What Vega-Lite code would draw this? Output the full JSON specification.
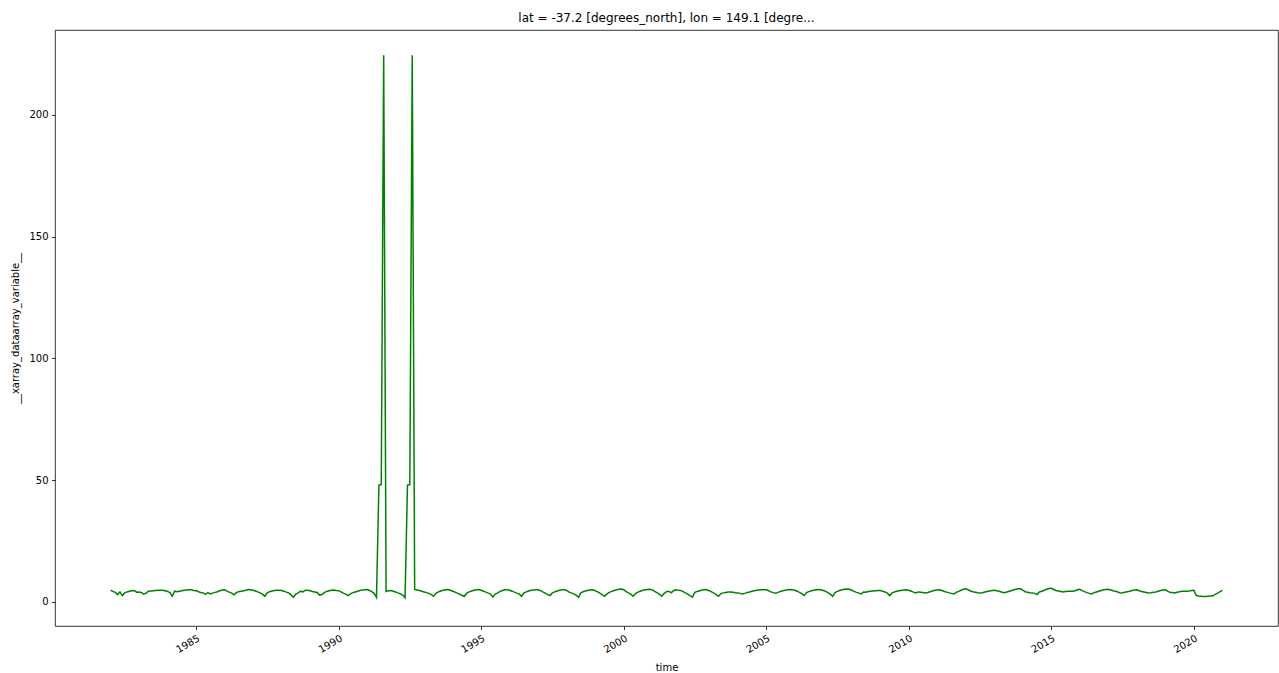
{
  "$schema": "https://vega.github.io/schema/vega-lite/v6.json",
  "width": 1223,
  "height": 596,
  "autosize": {"type": "none"},
  "padding": {"left": 55, "top": 30, "right": 1, "bottom": 47},
  "background": "white",
  "title": {"text": "lat = -37.2 [degrees_north], lon = 149.1 [degre...", "font": "DejaVu Sans", "fontSize": 12, "fontWeight": "normal", "color": "black", "anchor": "middle", "offset": 5},
  "data": {"values": [
    {"t":"1982-01-01","v":4.8},{"t":"1982-02-01","v":4.3},{"t":"1982-03-01","v":3.9},{"t":"1982-04-01","v":3.0},{"t":"1982-05-01","v":4.1},{"t":"1982-06-01","v":2.6},{"t":"1982-07-01","v":3.7},{"t":"1982-08-01","v":4.1},{"t":"1982-09-01","v":4.4},{"t":"1982-10-01","v":4.6},{"t":"1982-11-01","v":4.7},{"t":"1982-12-01","v":4.0},
    {"t":"1983-01-01","v":4.1},{"t":"1983-02-01","v":3.8},{"t":"1983-03-01","v":3.2},{"t":"1983-04-01","v":3.6},{"t":"1983-05-01","v":4.4},{"t":"1983-06-01","v":4.5},{"t":"1983-07-01","v":4.6},{"t":"1983-08-01","v":4.7},{"t":"1983-09-01","v":4.8},{"t":"1983-10-01","v":4.8},{"t":"1983-11-01","v":4.8},{"t":"1983-12-01","v":4.6},
    {"t":"1984-01-01","v":4.3},{"t":"1984-02-01","v":3.8},{"t":"1984-03-01","v":2.3},{"t":"1984-04-01","v":4.4},{"t":"1984-05-01","v":4.2},{"t":"1984-06-01","v":4.4},{"t":"1984-07-01","v":4.6},{"t":"1984-08-01","v":4.8},{"t":"1984-09-01","v":4.9},{"t":"1984-10-01","v":5.0},{"t":"1984-11-01","v":5.0},{"t":"1984-12-01","v":4.7},
    {"t":"1985-01-01","v":4.6},{"t":"1985-02-01","v":4.2},{"t":"1985-03-01","v":3.9},{"t":"1985-04-01","v":3.7},{"t":"1985-05-01","v":3.1},{"t":"1985-06-01","v":3.8},{"t":"1985-07-01","v":3.3},{"t":"1985-08-01","v":3.6},{"t":"1985-09-01","v":3.9},{"t":"1985-10-01","v":4.2},{"t":"1985-11-01","v":4.6},{"t":"1985-12-01","v":4.9},
    {"t":"1986-01-01","v":5.0},{"t":"1986-02-01","v":4.4},{"t":"1986-03-01","v":4.0},{"t":"1986-04-01","v":3.6},{"t":"1986-05-01","v":2.9},{"t":"1986-06-01","v":3.8},{"t":"1986-07-01","v":4.2},{"t":"1986-08-01","v":4.4},{"t":"1986-09-01","v":4.6},{"t":"1986-10-01","v":4.8},{"t":"1986-11-01","v":5.1},{"t":"1986-12-01","v":5.0},
    {"t":"1987-01-01","v":4.8},{"t":"1987-02-01","v":4.5},{"t":"1987-03-01","v":4.1},{"t":"1987-04-01","v":3.7},{"t":"1987-05-01","v":3.2},{"t":"1987-06-01","v":2.3},{"t":"1987-07-01","v":3.7},{"t":"1987-08-01","v":4.2},{"t":"1987-09-01","v":4.5},{"t":"1987-10-01","v":4.7},{"t":"1987-11-01","v":4.8},{"t":"1987-12-01","v":4.8},
    {"t":"1988-01-01","v":4.7},{"t":"1988-02-01","v":4.4},{"t":"1988-03-01","v":4.0},{"t":"1988-04-01","v":3.7},{"t":"1988-05-01","v":2.9},{"t":"1988-06-01","v":1.9},{"t":"1988-07-01","v":3.2},{"t":"1988-08-01","v":3.7},{"t":"1988-09-01","v":4.4},{"t":"1988-10-01","v":4.1},{"t":"1988-11-01","v":4.8},{"t":"1988-12-01","v":4.8},
    {"t":"1989-01-01","v":4.6},{"t":"1989-02-01","v":4.3},{"t":"1989-03-01","v":4.1},{"t":"1989-04-01","v":3.9},{"t":"1989-05-01","v":2.8},{"t":"1989-06-01","v":3.0},{"t":"1989-07-01","v":3.8},{"t":"1989-08-01","v":4.3},{"t":"1989-09-01","v":4.6},{"t":"1989-10-01","v":4.8},{"t":"1989-11-01","v":4.9},{"t":"1989-12-01","v":4.7},
    {"t":"1990-01-01","v":4.6},{"t":"1990-02-01","v":4.1},{"t":"1990-03-01","v":3.6},{"t":"1990-04-01","v":3.2},{"t":"1990-05-01","v":2.6},{"t":"1990-06-01","v":3.3},{"t":"1990-07-01","v":3.8},{"t":"1990-08-01","v":4.1},{"t":"1990-09-01","v":4.4},{"t":"1990-10-01","v":4.7},{"t":"1990-11-01","v":4.9},{"t":"1990-12-01","v":5.0},
    {"t":"1991-01-01","v":5.1},{"t":"1991-02-01","v":4.7},{"t":"1991-03-01","v":4.2},{"t":"1991-04-01","v":3.5},{"t":"1991-05-01","v":1.8},{"t":"1991-06-01","v":48.0},{"t":"1991-07-01","v":48.2},{"t":"1991-08-01","v":224.5},{"t":"1991-09-01","v":4.3},{"t":"1991-10-01","v":4.6},{"t":"1991-11-01","v":4.7},{"t":"1991-12-01","v":4.4},
    {"t":"1992-01-01","v":4.1},{"t":"1992-02-01","v":3.7},{"t":"1992-03-01","v":3.3},{"t":"1992-04-01","v":2.8},{"t":"1992-05-01","v":1.7},{"t":"1992-06-01","v":48.0},{"t":"1992-07-01","v":48.2},{"t":"1992-08-01","v":224.5},{"t":"1992-09-01","v":5.1},{"t":"1992-10-01","v":4.9},{"t":"1992-11-01","v":4.7},{"t":"1992-12-01","v":4.4},
    {"t":"1993-01-01","v":4.1},{"t":"1993-02-01","v":3.8},{"t":"1993-03-01","v":3.5},{"t":"1993-04-01","v":3.1},{"t":"1993-05-01","v":2.3},{"t":"1993-06-01","v":3.5},{"t":"1993-07-01","v":4.1},{"t":"1993-08-01","v":4.5},{"t":"1993-09-01","v":4.8},{"t":"1993-10-01","v":5.0},{"t":"1993-11-01","v":5.1},{"t":"1993-12-01","v":4.8},
    {"t":"1994-01-01","v":4.4},{"t":"1994-02-01","v":4.0},{"t":"1994-03-01","v":3.6},{"t":"1994-04-01","v":3.2},{"t":"1994-05-01","v":2.6},{"t":"1994-06-01","v":2.3},{"t":"1994-07-01","v":3.6},{"t":"1994-08-01","v":4.1},{"t":"1994-09-01","v":4.5},{"t":"1994-10-01","v":4.8},{"t":"1994-11-01","v":5.0},{"t":"1994-12-01","v":5.1},
    {"t":"1995-01-01","v":4.8},{"t":"1995-02-01","v":4.4},{"t":"1995-03-01","v":4.0},{"t":"1995-04-01","v":3.6},{"t":"1995-05-01","v":3.2},{"t":"1995-06-01","v":2.0},{"t":"1995-07-01","v":3.2},{"t":"1995-08-01","v":3.7},{"t":"1995-09-01","v":4.3},{"t":"1995-10-01","v":4.7},{"t":"1995-11-01","v":5.0},{"t":"1995-12-01","v":5.0},
    {"t":"1996-01-01","v":4.8},{"t":"1996-02-01","v":4.4},{"t":"1996-03-01","v":4.0},{"t":"1996-04-01","v":3.6},{"t":"1996-05-01","v":3.3},{"t":"1996-06-01","v":2.3},{"t":"1996-07-01","v":3.6},{"t":"1996-08-01","v":4.1},{"t":"1996-09-01","v":4.5},{"t":"1996-10-01","v":4.8},{"t":"1996-11-01","v":4.9},{"t":"1996-12-01","v":5.0},
    {"t":"1997-01-01","v":5.0},{"t":"1997-02-01","v":4.6},{"t":"1997-03-01","v":4.1},{"t":"1997-04-01","v":3.6},{"t":"1997-05-01","v":3.0},{"t":"1997-06-01","v":2.6},{"t":"1997-07-01","v":3.7},{"t":"1997-08-01","v":4.1},{"t":"1997-09-01","v":4.5},{"t":"1997-10-01","v":4.8},{"t":"1997-11-01","v":5.0},{"t":"1997-12-01","v":5.0},
    {"t":"1998-01-01","v":4.7},{"t":"1998-02-01","v":4.0},{"t":"1998-03-01","v":3.7},{"t":"1998-04-01","v":3.3},{"t":"1998-05-01","v":2.8},{"t":"1998-06-01","v":1.9},{"t":"1998-07-01","v":3.7},{"t":"1998-08-01","v":4.2},{"t":"1998-09-01","v":4.5},{"t":"1998-10-01","v":4.8},{"t":"1998-11-01","v":4.9},{"t":"1998-12-01","v":5.0},
    {"t":"1999-01-01","v":4.6},{"t":"1999-02-01","v":4.1},{"t":"1999-03-01","v":3.6},{"t":"1999-04-01","v":3.0},{"t":"1999-05-01","v":2.3},{"t":"1999-06-01","v":3.3},{"t":"1999-07-01","v":3.9},{"t":"1999-08-01","v":4.3},{"t":"1999-09-01","v":4.7},{"t":"1999-10-01","v":5.0},{"t":"1999-11-01","v":5.2},{"t":"1999-12-01","v":5.3},
    {"t":"2000-01-01","v":5.0},{"t":"2000-02-01","v":4.2},{"t":"2000-03-01","v":3.7},{"t":"2000-04-01","v":3.2},{"t":"2000-05-01","v":2.3},{"t":"2000-06-01","v":3.4},{"t":"2000-07-01","v":4.0},{"t":"2000-08-01","v":4.4},{"t":"2000-09-01","v":4.8},{"t":"2000-10-01","v":5.0},{"t":"2000-11-01","v":5.1},{"t":"2000-12-01","v":5.2},
    {"t":"2001-01-01","v":4.9},{"t":"2001-02-01","v":4.3},{"t":"2001-03-01","v":3.8},{"t":"2001-04-01","v":3.2},{"t":"2001-05-01","v":2.3},{"t":"2001-06-01","v":3.4},{"t":"2001-07-01","v":4.2},{"t":"2001-08-01","v":4.4},{"t":"2001-09-01","v":3.7},{"t":"2001-10-01","v":4.6},{"t":"2001-11-01","v":5.0},{"t":"2001-12-01","v":4.8},
    {"t":"2002-01-01","v":4.7},{"t":"2002-02-01","v":4.2},{"t":"2002-03-01","v":3.7},{"t":"2002-04-01","v":3.2},{"t":"2002-05-01","v":2.5},{"t":"2002-06-01","v":2.0},{"t":"2002-07-01","v":3.9},{"t":"2002-08-01","v":4.3},{"t":"2002-09-01","v":4.6},{"t":"2002-10-01","v":4.9},{"t":"2002-11-01","v":5.1},{"t":"2002-12-01","v":5.0},
    {"t":"2003-01-01","v":4.6},{"t":"2003-02-01","v":4.1},{"t":"2003-03-01","v":3.6},{"t":"2003-04-01","v":3.0},{"t":"2003-05-01","v":2.3},{"t":"2003-06-01","v":3.4},{"t":"2003-07-01","v":3.7},{"t":"2003-08-01","v":3.9},{"t":"2003-09-01","v":4.1},{"t":"2003-10-01","v":4.1},{"t":"2003-11-01","v":4.0},{"t":"2003-12-01","v":3.8},
    {"t":"2004-01-01","v":3.7},{"t":"2004-02-01","v":3.5},{"t":"2004-03-01","v":3.3},{"t":"2004-04-01","v":3.5},{"t":"2004-05-01","v":3.9},{"t":"2004-06-01","v":4.1},{"t":"2004-07-01","v":4.4},{"t":"2004-08-01","v":4.6},{"t":"2004-09-01","v":4.8},{"t":"2004-10-01","v":4.9},{"t":"2004-11-01","v":5.0},{"t":"2004-12-01","v":5.0},
    {"t":"2005-01-01","v":5.0},{"t":"2005-02-01","v":4.6},{"t":"2005-03-01","v":4.1},{"t":"2005-04-01","v":3.8},{"t":"2005-05-01","v":3.6},{"t":"2005-06-01","v":3.9},{"t":"2005-07-01","v":4.3},{"t":"2005-08-01","v":4.6},{"t":"2005-09-01","v":4.8},{"t":"2005-10-01","v":5.0},{"t":"2005-11-01","v":5.1},{"t":"2005-12-01","v":5.0},
    {"t":"2006-01-01","v":4.8},{"t":"2006-02-01","v":4.4},{"t":"2006-03-01","v":3.9},{"t":"2006-04-01","v":3.4},{"t":"2006-05-01","v":2.6},{"t":"2006-06-01","v":3.8},{"t":"2006-07-01","v":4.2},{"t":"2006-08-01","v":4.6},{"t":"2006-09-01","v":4.8},{"t":"2006-10-01","v":5.0},{"t":"2006-11-01","v":5.1},{"t":"2006-12-01","v":5.0},
    {"t":"2007-01-01","v":4.7},{"t":"2007-02-01","v":4.3},{"t":"2007-03-01","v":3.8},{"t":"2007-04-01","v":3.2},{"t":"2007-05-01","v":2.3},{"t":"2007-06-01","v":3.8},{"t":"2007-07-01","v":4.3},{"t":"2007-08-01","v":4.7},{"t":"2007-09-01","v":5.0},{"t":"2007-10-01","v":5.2},{"t":"2007-11-01","v":5.3},{"t":"2007-12-01","v":5.2},
    {"t":"2008-01-01","v":4.8},{"t":"2008-02-01","v":4.3},{"t":"2008-03-01","v":3.9},{"t":"2008-04-01","v":3.6},{"t":"2008-05-01","v":3.3},{"t":"2008-06-01","v":4.1},{"t":"2008-07-01","v":4.0},{"t":"2008-08-01","v":4.3},{"t":"2008-09-01","v":4.4},{"t":"2008-10-01","v":4.5},{"t":"2008-11-01","v":4.6},{"t":"2008-12-01","v":4.7},
    {"t":"2009-01-01","v":4.7},{"t":"2009-02-01","v":4.4},{"t":"2009-03-01","v":4.1},{"t":"2009-04-01","v":3.6},{"t":"2009-05-01","v":2.6},{"t":"2009-06-01","v":3.7},{"t":"2009-07-01","v":4.1},{"t":"2009-08-01","v":4.4},{"t":"2009-09-01","v":4.6},{"t":"2009-10-01","v":4.8},{"t":"2009-11-01","v":4.9},{"t":"2009-12-01","v":5.0},
    {"t":"2010-01-01","v":4.8},{"t":"2010-02-01","v":4.4},{"t":"2010-03-01","v":4.0},{"t":"2010-04-01","v":3.7},{"t":"2010-05-01","v":4.1},{"t":"2010-06-01","v":4.0},{"t":"2010-07-01","v":3.9},{"t":"2010-08-01","v":3.7},{"t":"2010-09-01","v":3.9},{"t":"2010-10-01","v":4.2},{"t":"2010-11-01","v":4.5},{"t":"2010-12-01","v":4.8},
    {"t":"2011-01-01","v":4.9},{"t":"2011-02-01","v":5.0},{"t":"2011-03-01","v":4.7},{"t":"2011-04-01","v":4.3},{"t":"2011-05-01","v":4.0},{"t":"2011-06-01","v":3.7},{"t":"2011-07-01","v":3.5},{"t":"2011-08-01","v":3.3},{"t":"2011-09-01","v":3.9},{"t":"2011-10-01","v":4.3},{"t":"2011-11-01","v":4.8},{"t":"2011-12-01","v":5.2},
    {"t":"2012-01-01","v":5.4},{"t":"2012-02-01","v":5.0},{"t":"2012-03-01","v":4.5},{"t":"2012-04-01","v":4.2},{"t":"2012-05-01","v":4.0},{"t":"2012-06-01","v":3.8},{"t":"2012-07-01","v":3.7},{"t":"2012-08-01","v":3.8},{"t":"2012-09-01","v":4.1},{"t":"2012-10-01","v":4.3},{"t":"2012-11-01","v":4.5},{"t":"2012-12-01","v":4.7},
    {"t":"2013-01-01","v":4.8},{"t":"2013-02-01","v":4.6},{"t":"2013-03-01","v":4.4},{"t":"2013-04-01","v":4.1},{"t":"2013-05-01","v":3.8},{"t":"2013-06-01","v":4.0},{"t":"2013-07-01","v":4.3},{"t":"2013-08-01","v":4.6},{"t":"2013-09-01","v":4.9},{"t":"2013-10-01","v":5.2},{"t":"2013-11-01","v":5.4},{"t":"2013-12-01","v":5.4},
    {"t":"2014-01-01","v":4.8},{"t":"2014-02-01","v":4.2},{"t":"2014-03-01","v":4.0},{"t":"2014-04-01","v":3.8},{"t":"2014-05-01","v":3.7},{"t":"2014-06-01","v":3.5},{"t":"2014-07-01","v":3.0},{"t":"2014-08-01","v":4.1},{"t":"2014-09-01","v":4.4},{"t":"2014-10-01","v":4.8},{"t":"2014-11-01","v":5.2},{"t":"2014-12-01","v":5.5},
    {"t":"2015-01-01","v":5.6},{"t":"2015-02-01","v":5.1},{"t":"2015-03-01","v":4.7},{"t":"2015-04-01","v":4.5},{"t":"2015-05-01","v":4.3},{"t":"2015-06-01","v":4.1},{"t":"2015-07-01","v":4.3},{"t":"2015-08-01","v":4.4},{"t":"2015-09-01","v":4.4},{"t":"2015-10-01","v":4.4},{"t":"2015-11-01","v":4.6},{"t":"2015-12-01","v":5.0},
    {"t":"2016-01-01","v":5.2},{"t":"2016-02-01","v":4.6},{"t":"2016-03-01","v":4.2},{"t":"2016-04-01","v":3.8},{"t":"2016-05-01","v":3.5},{"t":"2016-06-01","v":3.3},{"t":"2016-07-01","v":3.8},{"t":"2016-08-01","v":4.1},{"t":"2016-09-01","v":4.4},{"t":"2016-10-01","v":4.7},{"t":"2016-11-01","v":5.0},{"t":"2016-12-01","v":5.1},
    {"t":"2017-01-01","v":5.2},{"t":"2017-02-01","v":4.9},{"t":"2017-03-01","v":4.6},{"t":"2017-04-01","v":4.4},{"t":"2017-05-01","v":4.1},{"t":"2017-06-01","v":3.7},{"t":"2017-07-01","v":3.8},{"t":"2017-08-01","v":4.0},{"t":"2017-09-01","v":4.2},{"t":"2017-10-01","v":4.4},{"t":"2017-11-01","v":4.7},{"t":"2017-12-01","v":4.9},
    {"t":"2018-01-01","v":5.0},{"t":"2018-02-01","v":4.6},{"t":"2018-03-01","v":4.3},{"t":"2018-04-01","v":4.1},{"t":"2018-05-01","v":3.9},{"t":"2018-06-01","v":3.7},{"t":"2018-07-01","v":3.8},{"t":"2018-08-01","v":4.0},{"t":"2018-09-01","v":4.1},{"t":"2018-10-01","v":4.4},{"t":"2018-11-01","v":4.7},{"t":"2018-12-01","v":4.9},
    {"t":"2019-01-01","v":5.0},{"t":"2019-02-01","v":4.3},{"t":"2019-03-01","v":4.0},{"t":"2019-04-01","v":3.9},{"t":"2019-05-01","v":3.7},{"t":"2019-06-01","v":4.0},{"t":"2019-07-01","v":4.2},{"t":"2019-08-01","v":4.4},{"t":"2019-09-01","v":4.4},{"t":"2019-10-01","v":4.4},{"t":"2019-11-01","v":4.5},{"t":"2019-12-01","v":4.7},
    {"t":"2020-01-01","v":4.8},{"t":"2020-02-01","v":2.6},{"t":"2020-03-01","v":2.4},{"t":"2020-04-01","v":2.3},{"t":"2020-05-01","v":2.2},{"t":"2020-06-01","v":2.2},{"t":"2020-07-01","v":2.3},{"t":"2020-08-01","v":2.4},{"t":"2020-09-01","v":2.5},{"t":"2020-10-01","v":3.1},{"t":"2020-11-01","v":3.6},{"t":"2020-12-01","v":4.2},
    {"t":"2021-01-01","v":4.7}
  ]},
  "mark": {"type": "line", "color": "#008000", "strokeWidth": 1.5, "interpolate": "linear"},
  "encoding": {
    "x": {
      "field": "t",
      "type": "temporal",
      "scale": {"type": "utc", "domain": [{"utc": true, "year": 1980, "month": 1, "date": 20}, {"utc": true, "year": 2022, "month": 12, "date": 14}]},
      "axis": {
        "title": "time",
        "values": [{"utc": true, "year": 1985}, {"utc": true, "year": 1990}, {"utc": true, "year": 1995}, {"utc": true, "year": 2000}, {"utc": true, "year": 2005}, {"utc": true, "year": 2010}, {"utc": true, "year": 2015}, {"utc": true, "year": 2020}],
        "format": "%Y",
        "labelAngle": -30,
        "labelAlign": "right",
        "labelBaseline": "top",
        "titlePadding": 8
      }
    },
    "y": {
      "field": "v",
      "type": "quantitative",
      "scale": {"domain": [-9.9, 234.9], "nice": false, "zero": false},
      "axis": {"title": "__xarray_dataarray_variable__", "values": [0, 50, 100, 150, 200], "titlePadding": 8}
    }
  },
  "config": {
    "view": {"stroke": "black", "strokeWidth": 0.8},
    "axis": {
      "domain": false,
      "grid": false,
      "labelFont": "DejaVu Sans",
      "labelFontSize": 10,
      "labelColor": "black",
      "labelPadding": 3.5,
      "tickColor": "black",
      "tickSize": 3.5,
      "tickWidth": 0.8,
      "titleFont": "DejaVu Sans",
      "titleFontSize": 10,
      "titleFontWeight": "normal",
      "titleColor": "black",
      "labelOverlap": false
    }
  }
}
